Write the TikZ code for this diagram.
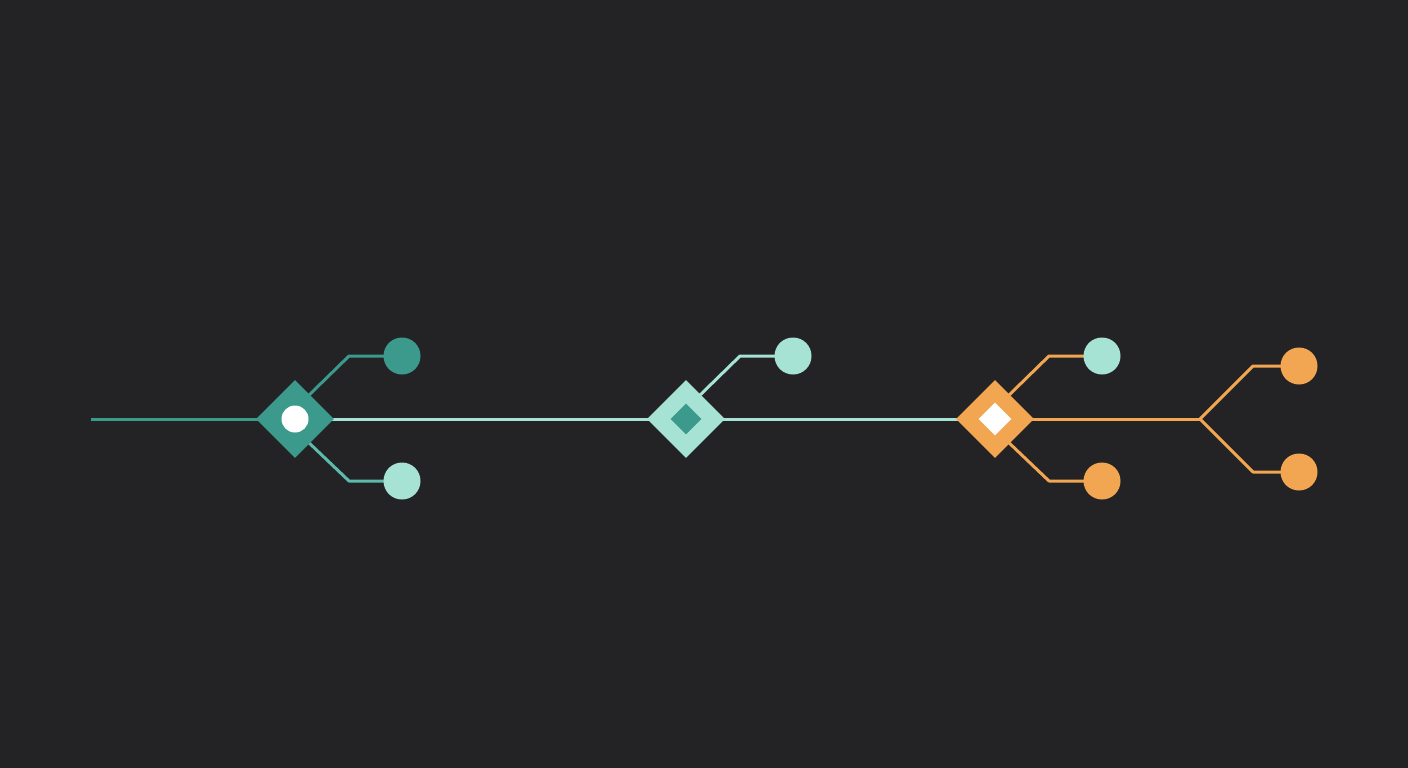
\documentclass[tikz,border=0pt]{standalone}
\usetikzlibrary{shapes.geometric}
\definecolor{bg}{HTML}{232326}
\definecolor{teal1}{HTML}{3B9A8C}
\definecolor{teal2}{HTML}{5DBBAD}
\definecolor{mint}{HTML}{A6E3D4}
\definecolor{orng}{HTML}{F2A652}
\begin{document}
\begin{tikzpicture}[x=1pt,y=-1pt,
  dia/.style={diamond,inner sep=0pt,minimum width=78pt,minimum height=78pt,draw=none},
  idia/.style={diamond,inner sep=0pt,minimum width=31pt,minimum height=31pt,draw=none},
  dot/.style={circle,inner sep=0pt,minimum size=37pt,draw=none},
  wire/.style={line width=3pt,line join=round}]
\useasboundingbox (0,0) rectangle (1408,768);
\fill[bg] (0,0) rectangle (1408,768);
% coordinates
\coordinate (start) at (91,419);
\coordinate (fork) at (1200,419);
\coordinate (p1) at (295,419);
\coordinate (p2) at (686,419);
\coordinate (p3) at (995,419);
\coordinate (c1a) at (402,356);
\coordinate (c1b) at (402,481);
\coordinate (c2a) at (793,356);
\coordinate (c3a) at (1102,356);
\coordinate (c3b) at (1102,481);
\coordinate (c4a) at (1299,366);
\coordinate (c4b) at (1299,472);
% wires
\draw[wire,teal1] (start) -- (p1);
\draw[wire,mint] (p1) -- (p2);
\draw[wire,mint] (p2) -- (p3);
\draw[wire,orng] (p3) -- (fork);
\draw[wire,teal1] ([shift={(10,-20)}]p1) -- ([shift={(54,-63)}]p1) -- (c1a);
\draw[wire,teal2] ([shift={(10,20)}]p1) -- ([shift={(54,62)}]p1) -- (c1b);
\draw[wire,mint] ([shift={(10,-20)}]p2) -- ([shift={(54,-63)}]p2) -- (c2a);
\draw[wire,orng] ([shift={(10,-20)}]p3) -- ([shift={(54,-63)}]p3) -- (c3a);
\draw[wire,orng] ([shift={(10,20)}]p3) -- ([shift={(54,62)}]p3) -- (c3b);
\draw[wire,orng] (fork) -- (1253,366) -- (c4a);
\draw[wire,orng] (fork) -- (1253,472) -- (c4b);
% dots
\node[dot,fill=teal1] (n1a) at (c1a) {};
\node[dot,fill=mint] (n1b) at (c1b) {};
\node[dot,fill=mint] (n2a) at (c2a) {};
\node[dot,fill=mint] (n3a) at (c3a) {};
\node[dot,fill=orng] (n3b) at (c3b) {};
\node[dot,fill=orng] (n4a) at (c4a) {};
\node[dot,fill=orng] (n4b) at (c4b) {};
% diamonds
\node[dia,fill=teal1] (d1) at (p1) {};
\node[circle,fill=white,inner sep=0pt,minimum size=27pt] (d1in) at (d1) {};
\node[dia,fill=mint] (d2) at (p2) {};
\node[idia,fill=teal1] (d2in) at (d2) {};
\node[dia,fill=orng] (d3) at (p3) {};
\node[idia,fill=white,minimum width=33pt,minimum height=33pt] (d3in) at (d3) {};
\end{tikzpicture}
\end{document}
